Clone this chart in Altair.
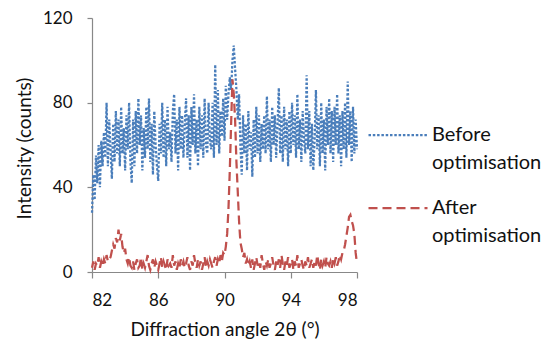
import altair as alt
import numpy as np
import pandas as pd

# Scan grid (2θ, degrees)
angle = np.round(np.arange(82, 98.0001, 0.08), 2)

before = [
    28, 46, 34, 55, 42, 60, 40, 62, 50, 66,
    54, 80, 50, 72, 58, 44, 70, 52, 76, 56,
    72, 50, 78, 56, 68, 48, 74, 58, 80, 52,
    42, 72, 50, 76, 56, 82, 60, 74, 48, 68,
    54, 78, 58, 82, 52, 70, 46, 76, 60, 50,
    43, 70, 56, 80, 54, 72, 50, 78, 58, 66,
    52, 76, 84, 56, 72, 48, 78, 58, 74, 54,
    70, 82, 54, 74, 48, 78, 60, 84, 56, 72,
    50, 78, 58, 74, 54, 82, 60, 56, 80, 62,
    58, 80, 54, 98, 60, 86, 56, 76, 64, 82,
    62, 88, 72, 84, 92, 86, 100, 107, 96, 86,
    72, 84, 60, 46, 74, 56, 70, 48, 76, 58,
    66, 45, 72, 54, 78, 56, 74, 52, 70, 58,
    74, 56, 83, 58, 72, 52, 78, 60, 74, 54,
    70, 87, 56, 74, 52, 78, 58, 72, 50, 76,
    56, 80, 60, 74, 54, 84, 58, 72, 52, 76,
    62, 56, 93, 58, 76, 50, 70, 48, 62, 86,
    58, 74, 50, 80, 56, 72, 48, 78, 60, 82,
    56, 76, 52, 78, 60, 84, 56, 74, 50, 76,
    58, 80, 54, 90, 60, 76, 52, 78, 56, 72, 58,
]

after = [
    2, 5, 1, 4, 3, 7, 2, 5, 3, 6,
    4, 8, 5, 6, 7, 10, 13, 11, 16, 14,
    20, 15, 18, 12, 9, 11, 6, 4, 7, 3,
    2, 5, 1, 4, 6, 2, 3, 7, 1, 4,
    2, 5, 8, 3, 1, 4, 6, 2, 5, 3,
    1, 4, 7, 2, 5, 3, 1, 6, 3, 4,
    2, 8, 3, 5, 1, 4, 2, 6, 3, 5,
    2, 4, 7, 3, 1, 5, 3, 8, 4, 2,
    6, 3, 5, 1, 4, 7, 2, 5, 3, 6,
    4, 2, 5, 7, 3, 6, 4, 8, 5, 9,
    8, 12, 18, 30, 48, 70, 91, 84, 72, 52,
    38, 24, 14, 11, 7, 9, 4, 6, 3, 5,
    2, 6, 1, 4, 7, 3, 5, 2, 8, 4,
    1, 5, 3, 6, 2, 4, 7, 3, 1, 5,
    3, 6, 2, 8, 4, 1, 5, 3, 7, 2,
    4, 6, 1, 5, 3, 8, 2, 4, 6, 3,
    1, 5, 3, 7, 2, 4, 6, 2, 5, 3,
    8, 4, 1, 6, 3, 5, 2, 7, 4, 3,
    5, 2, 6, 4, 7, 3, 5, 8, 6, 9,
    10, 13, 17, 21, 26, 27, 24, 22, 18, 9, 4,
]

series = ["Before optimisation", "After optimisation"]
colors = ["#4A7EBB", "#C0504D"]
dashes = [[2.5, 1.8], [9, 5]]

x_ticks = [82, 86, 90, 94, 98]
y_ticks = [0, 40, 80, 120]

n = len(angle)
df = pd.DataFrame({
    "angle": np.concatenate([angle, angle]),
    "counts": before + after,
    "series": [series[0]] * n + [series[1]] * n,
})

FONT = "Lato"

x_enc = alt.X(
    "angle:Q",
    scale=alt.Scale(domain=[82, 98], nice=False, zero=False),
    axis=alt.Axis(
        values=x_ticks, title="Diffraction angle 2θ (°)", grid=False,
        tickSize=6, labelPadding=14, titleY=57, titleBaseline="middle",
    ),
)
y_enc = alt.Y(
    "counts:Q",
    scale=alt.Scale(domain=[0, 120], nice=False),
    axis=alt.Axis(
        values=y_ticks, title="Intensity (counts)", grid=False,
        tickSize=5, labelPadding=15, titleX=-68, titleY=130,
        titleAlign="center", titleBaseline="middle",
    ),
)
color_enc = alt.Color(
    "series:N",
    scale=alt.Scale(domain=series, range=colors),
    legend=alt.Legend(
        title=None, orient="none", legendX=275, legendY=86,
        symbolType="stroke", symbolSize=3481, symbolStrokeWidth=2.25,
        labelFont=FONT, labelFontSize=20, labelColor="#111",
        labelOffset=3, rowPadding=4, padding=0, labelLimit=200,
        labelExpr="split(datum.label, ' ')",
    ),
)
dash_enc = alt.StrokeDash(
    "series:N",
    scale=alt.Scale(domain=series, range=dashes),
    legend=None,
)

base = alt.Chart(df).mark_line(strokeWidth=2.25).encode(
    x=x_enc, y=y_enc, color=color_enc, strokeDash=dash_enc,
)

chart = alt.layer(
    base.transform_filter(alt.datum.series == series[0]),
    base.transform_filter(alt.datum.series == series[1]),
).properties(
    width=265, height=254,
    autosize=alt.AutoSizeParams(type="none"),
    padding={"left": 84, "top": 10, "right": 187, "bottom": 67},
).configure(
    style={"guide-label": {"lineHeight": 28}}
).configure_view(
    stroke=None
).configure_axis(
    domainColor="#888", tickColor="#888", domainWidth=1.2, tickWidth=1.2,
    labelFont=FONT, labelFontSize=17, labelColor="#111",
    titleFont=FONT, titleFontSize=19, titleFontWeight="normal", titleColor="#111",
)

chart.save("out.html", embed_options={"renderer": "svg", "actions": False})
